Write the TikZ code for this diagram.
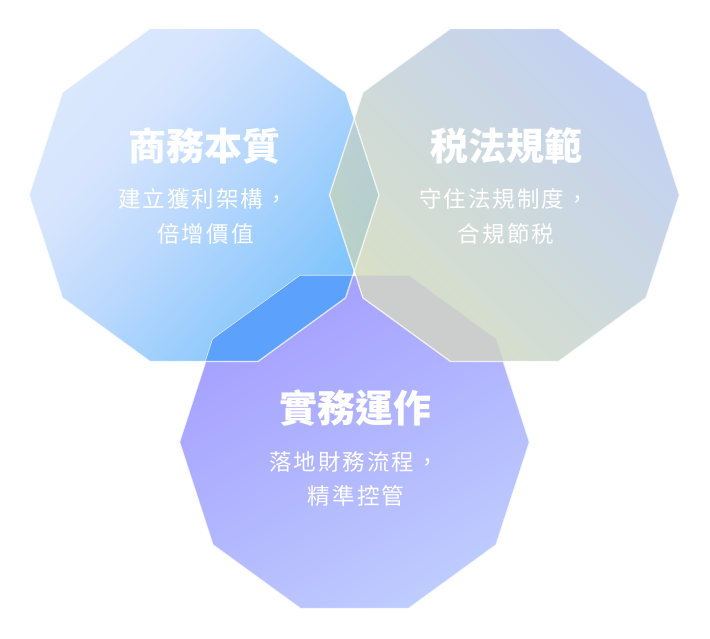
\documentclass[tikz,border=0pt]{standalone}
\usepackage{fontspec}
\newfontfamily\cjktitle{Noto Sans CJK TC}
\newfontfamily\cjksub[LetterSpace=9]{Noto Sans CJK TC}
\definecolor{lA1}{RGB}{218,232,253}
\definecolor{lA2}{RGB}{214,229,253}
\definecolor{lA3}{RGB}{186,216,253}
\definecolor{lA4}{RGB}{120,194,252}
\definecolor{rB1}{RGB}{174,194,242}
\definecolor{rB2}{RGB}{205,215,178}
\definecolor{bC1}{RGB}{163,157,255}
\definecolor{bC2}{RGB}{191,205,254}
\definecolor{ovLB}{RGB}{92,162,253}
\definecolor{ovRB}{RGB}{204,206,205}
\pgfdeclarehorizontalshading{leftsh}{100bp}{color(0bp)=(lA1); color(25bp)=(lA1); color(35.7bp)=(lA2); color(50bp)=(lA3); color(75bp)=(lA4); color(100bp)=(lA4)}
\pgfdeclarehorizontalshading{rightsh}{100bp}{color(0bp)=(rB1); color(25bp)=(rB1); color(75bp)=(rB2); color(100bp)=(rB2)}
\pgfdeclarehorizontalshading{bottomsh}{100bp}{color(0bp)=(bC1); color(25bp)=(bC1); color(75bp)=(bC2); color(100bp)=(bC2)}
\def\decpath{(0:175) -- (36:175) -- (72:175) -- (108:175) -- (144:175) -- (180:175) -- (216:175) -- (252:175) -- (288:175) -- (324:175) -- cycle}
\tikzset{
  rim/.style={draw=white, draw opacity=0.75, line width=1.3pt, line join=round},
  titletext/.style={text=white, anchor=base, inner sep=0pt, font=\cjktitle\bfseries\fontsize{38}{40}\selectfont},
  subtext/.style={text=white, anchor=base, inner sep=0pt, font=\cjksub\fontsize{22.5}{26}\selectfont}
}
\begin{document}
\begin{tikzpicture}[x=1pt,y=-1pt]
\useasboundingbox (0,0) rectangle (710,638);
\fill[white] (0,0) rectangle (710,638);
% left decagon
\begin{scope}
  \clip[shift={(204,195)}] \decpath;
  \shade[shading=leftsh, transform canvas={shift={(204,195)},rotate=-41}] (-176,-180) rectangle (176,180);
\end{scope}
% bottom decagon
\begin{scope}
  \clip[shift={(354.5,442)}] \decpath;
  \shade[shading=bottomsh, transform canvas={shift={(354.5,442)},rotate=-60}] (-176,-180) rectangle (176,180);
\end{scope}
\draw[rim, shift={(354.5,442)}] \decpath;
% right decagon (translucent)
\begin{scope}[opacity=0.75]
  \clip[shift={(504.5,195)}] \decpath;
  \shade[shading=rightsh, transform canvas={shift={(504.5,195)},rotate=-135}] (-176,-180) rectangle (176,180);
\end{scope}
% overlaps with bottom
\begin{scope}
  \clip[shift={(204,195)}] \decpath;
  \clip[shift={(354.5,442)}] \decpath;
  \fill[ovLB] (0,0) rectangle (710,638);
\end{scope}
\begin{scope}
  \clip[shift={(504.5,195)}] \decpath;
  \clip[shift={(354.5,442)}] \decpath;
  \fill[ovRB] (0,0) rectangle (710,638);
\end{scope}
% rims
\draw[rim, shift={(204,195)}] \decpath;
\draw[rim, shift={(504.5,195)}] \decpath;
% texts
\node[titletext] (t1) at (204,160.6) {商務本質};
\node[subtext] (s1a) at (203,207.6) {建立獲利架構，};
\node[subtext] (s1b) at (205.5,242.6) {倍增價值};
\node[titletext] (t2) at (506,160.6) {税法規範};
\node[subtext] (s2a) at (504,207.6) {守住法規制度，};
\node[subtext] (s2b) at (506,242.6) {合規節税};
\node[titletext] (t3) at (355,422.4) {實務運作};
\node[subtext] (s3a) at (354,470.3) {落地財務流程，};
\node[subtext] (s3b) at (356,504.6) {精準控管};
\end{tikzpicture}
\end{document}
